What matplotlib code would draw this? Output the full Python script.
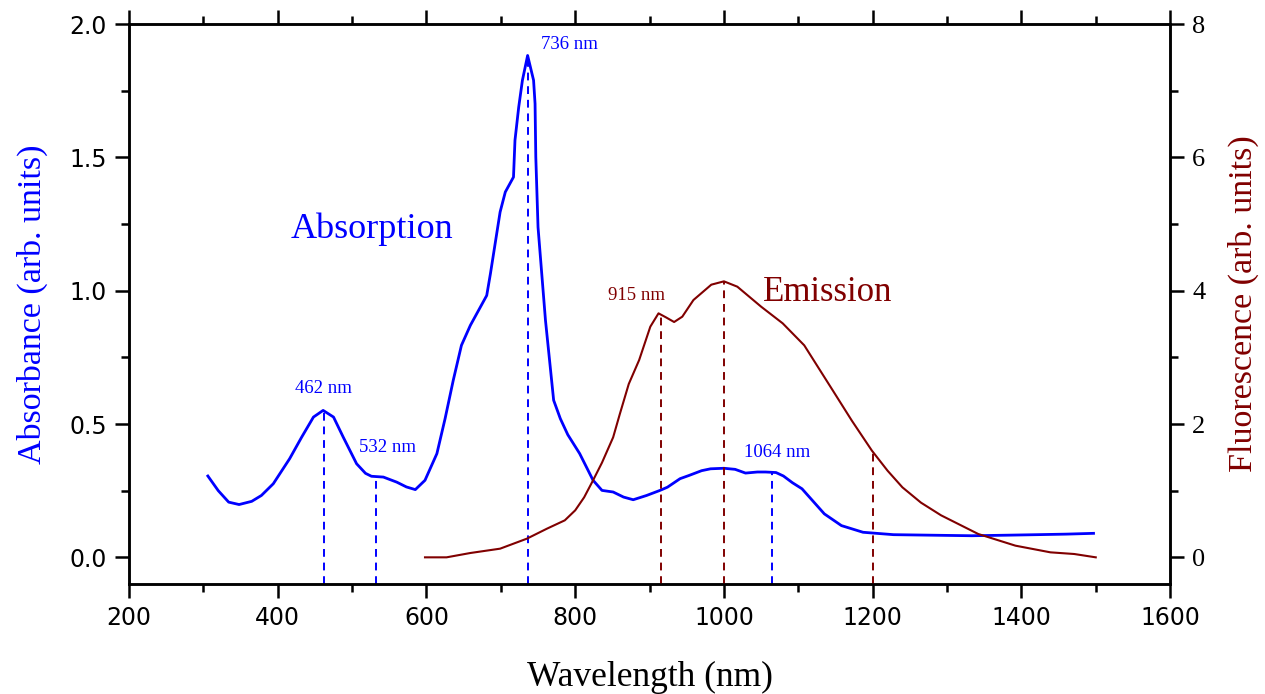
import matplotlib
matplotlib.use("Agg")
import matplotlib.pyplot as plt
import numpy as np
from matplotlib.ticker import MultipleLocator

# absorption spectrum (left axis)
abs_nm = [306, 320, 334, 348, 365, 378, 394, 416, 432, 448, 461, 475, 488,
          506, 518, 526, 542, 560, 573, 585, 598, 614, 625, 636, 647, 659,
          681, 686, 699, 706, 717, 719, 724, 729, 736, 744, 746, 747, 750,
          760, 771, 780, 790, 806, 824, 836, 851, 865, 878, 896, 914, 924,
          941, 953, 970, 982, 1000, 1015, 1029, 1045, 1056, 1070, 1080, 1092,
          1105, 1120, 1135, 1158, 1187, 1228, 1280, 1333, 1380, 1421, 1460,
          1497]
abs_val = [0.305, 0.25, 0.207, 0.198, 0.21, 0.232, 0.276, 0.37, 0.45, 0.526,
           0.551, 0.526, 0.451, 0.351, 0.315, 0.304, 0.301, 0.282, 0.264,
           0.254, 0.289, 0.389, 0.52, 0.664, 0.795, 0.87, 0.982, 1.064, 1.295,
           1.37, 1.426, 1.564, 1.688, 1.789, 1.882, 1.789, 1.701, 1.501, 1.238,
           0.889, 0.589, 0.52, 0.46, 0.389, 0.289, 0.251, 0.245, 0.226, 0.216,
           0.232, 0.251, 0.263, 0.295, 0.307, 0.325, 0.332, 0.334, 0.33,
           0.316, 0.32, 0.32, 0.318, 0.305, 0.28, 0.257, 0.21, 0.163, 0.119,
           0.094, 0.085, 0.083, 0.081, 0.083, 0.085, 0.087, 0.09]

# emission spectrum (right axis)
em_nm = [598, 627, 659, 699, 735, 762, 786, 800, 812, 824, 836, 851, 860,
         872, 886, 901, 912, 922, 933, 944, 959, 983, 1000, 1018, 1050, 1079,
         1108, 1146, 1172, 1199, 1220, 1240, 1265, 1292, 1342, 1392, 1439,
         1471, 1500]
em_val = [0.0, 0.0, 0.065, 0.13, 0.28, 0.43, 0.555, 0.705, 0.9, 1.155, 1.42,
          1.8, 2.15, 2.6, 2.96, 3.46, 3.66, 3.6, 3.53, 3.61, 3.86, 4.09, 4.14,
          4.06, 3.76, 3.51, 3.18, 2.51, 2.05, 1.6, 1.3, 1.05, 0.82, 0.63, 0.35,
          0.175, 0.075, 0.05, 0.0]

abs_peaks = [462, 532, 736, 1064]
em_peaks = [915, 1000, 1200]

BLUE = "#0000ff"
DARKRED = "#800000"
SERIF = "Liberation Serif"

fig = plt.figure(figsize=(12.65, 6.94), dpi=100)
ax = fig.add_axes([0.102, 0.1585, 0.823, 0.8069])
ax2 = ax.twinx()

ax.plot(abs_nm, abs_val, color=BLUE, lw=2.0, zorder=3)
ax2.plot(em_nm, em_val, color=DARKRED, lw=1.5, zorder=3)

# dashed drop lines from the curve down to the x axis
for p in abs_peaks:
    top = np.interp(p, abs_nm, abs_val)
    ax.plot([p, p], [-0.1, top], color=BLUE, lw=1.4, ls=(0, (4, 3)))
for p in em_peaks:
    top = np.interp(p, em_nm, em_val)
    ax2.plot([p, p], [-0.4, top], color=DARKRED, lw=1.4, ls=(0, (4, 3)))

ax.set_xlim(200, 1600)
ax.set_ylim(-0.1, 2.0)
ax2.set_ylim(-0.4, 8.0)

ax.xaxis.set_major_locator(MultipleLocator(200))
ax.xaxis.set_minor_locator(MultipleLocator(100))
ax.yaxis.set_major_locator(MultipleLocator(0.5))
ax.yaxis.set_minor_locator(MultipleLocator(0.25))
ax2.yaxis.set_major_locator(MultipleLocator(2))
ax2.yaxis.set_minor_locator(MultipleLocator(1))
ax.yaxis.set_major_formatter(plt.FormatStrFormatter("%.1f"))

for a in (ax, ax2):
    for s in a.spines.values():
        s.set_linewidth(1.8)

ax.tick_params(which="both", direction="out", top=True, width=1.8,
               labelsize=17, pad=6)
ax.tick_params(which="major", length=10)
ax.tick_params(which="minor", length=6)
ax2.tick_params(which="both", direction="out", width=1.8, pad=6)
ax2.tick_params(which="major", length=10)
ax2.tick_params(which="minor", length=6)
for lab in ax2.get_yticklabels():
    lab.set_family(SERIF)
    lab.set_fontsize(19)

ax.set_xlabel("Wavelength (nm)", family=SERIF, fontsize=25.5, labelpad=22)
ax.set_ylabel("Absorbance (arb. units)", family=SERIF, fontsize=24.5,
              color=BLUE, labelpad=15)
ax2.set_ylabel("Fluorescence (arb. units)", family=SERIF, fontsize=24.5,
               color=DARKRED, labelpad=16)

# peak labels
ax.text(462, 0.6, "462 nm", color=BLUE, family=SERIF, fontsize=13.5,
        ha="center", va="bottom")
ax.text(547, 0.38, "532 nm", color=BLUE, family=SERIF, fontsize=13.5,
        ha="center", va="bottom")
ax.text(754, 1.89, "736 nm", color=BLUE, family=SERIF, fontsize=13.5,
        ha="left", va="bottom")
ax.text(1071, 0.36, "1064 nm", color=BLUE, family=SERIF, fontsize=13.5,
        ha="center", va="bottom")
ax2.text(883, 3.8, "915 nm", color=DARKRED, family=SERIF, fontsize=13.5,
         ha="center", va="bottom")

ax.text(527, 1.23, "Absorption", color=BLUE, family=SERIF, fontsize=26,
        ha="center", va="center")
ax2.text(1053, 3.98, "Emission", color=DARKRED, family=SERIF, fontsize=25,
         ha="left", va="center")

fig.savefig("out.png", dpi=100)
